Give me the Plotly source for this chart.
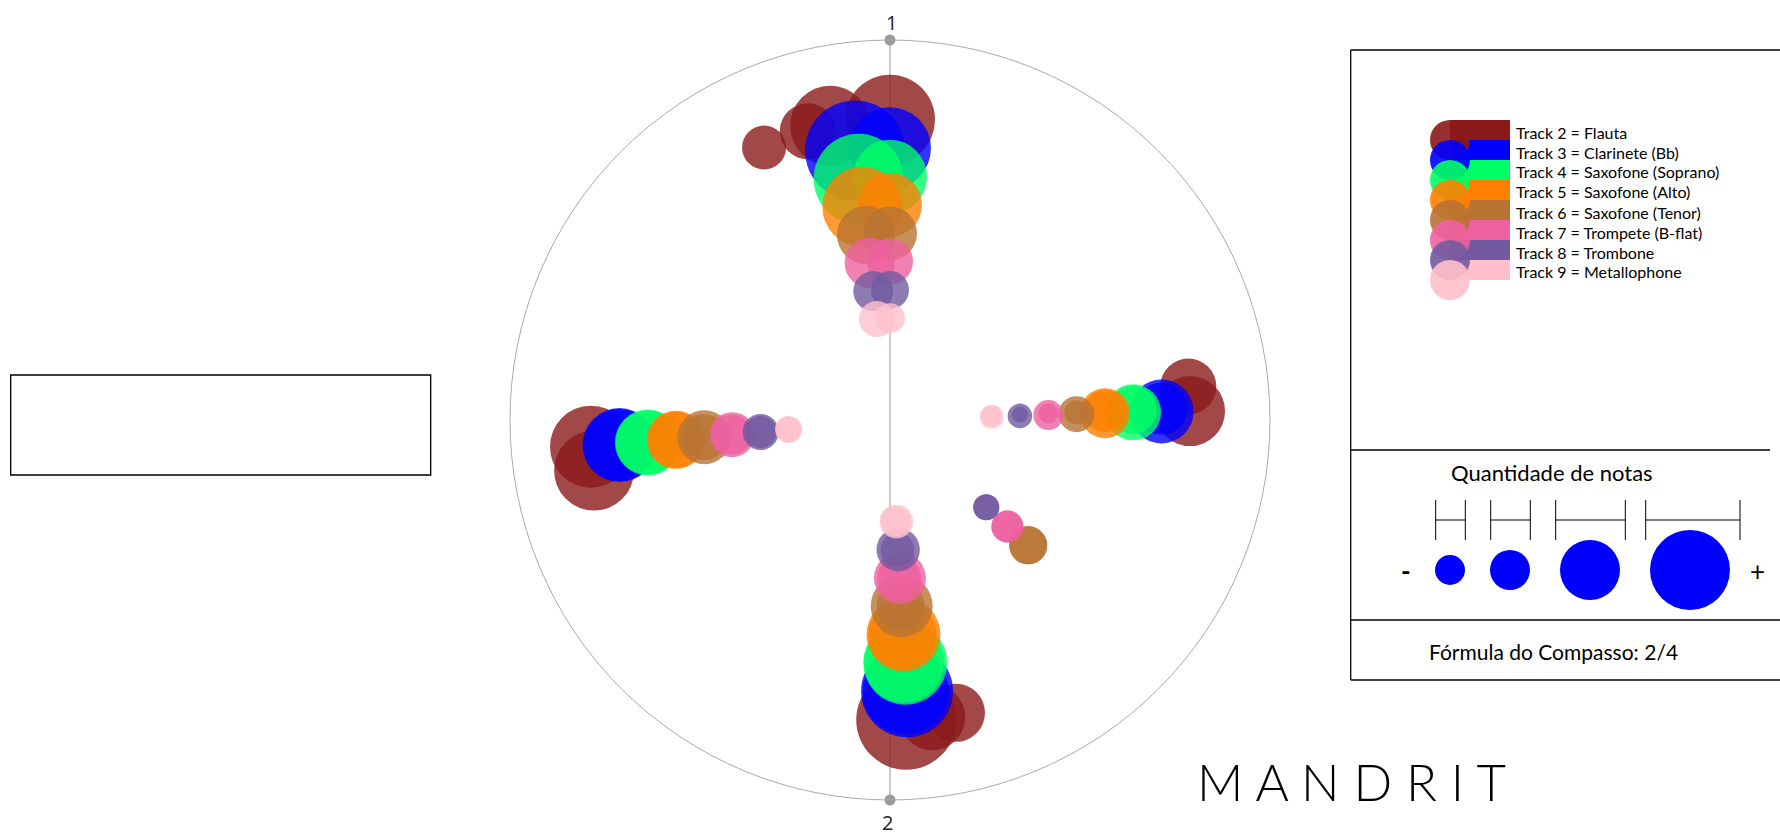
import plotly.graph_objects as go

W, H = 1780, 840


def px(x):
    return x / W


def py(y):
    return 1 - y / H


# ---------------- data ----------------
tracks = [
    "Track 2 = Flauta",
    "Track 3 = Clarinete (Bb)",
    "Track 4 = Saxofone (Soprano)",
    "Track 5 = Saxofone (Alto)",
    "Track 6 = Saxofone (Tenor)",
    "Track 7 = Trompete (B-flat)",
    "Track 8 = Trombone",
    "Track 9 = Metallophone",
]
colors = ["#8B1A1A", "#0000FF", "#00FF64", "#FF8000", "#B87333", "#EE60A0", "#735AA0", "#FFC0CB"]
ring = [0.790, 0.715, 0.640, 0.566, 0.491, 0.417, 0.342, 0.268]

beat_ticks = [0, 180]
beat_labels = ["1", "2"]

# angular position (degrees, clockwise from beat 1) and note quantity of each bubble
theta_flauta = [0, 348.5, 344.1, 335.2, 83.6, 88.3, 176.9, 171.9, 167.3, 264.9, 260.3]
notes_flauta = [45, 40, 28, 22, 28, 35, 50, 33, 29, 41, 40]

theta_clarinete = [352.6, 0, 88.2, 87.6, 176.4, 176.7, 264.7, 264.7]
notes_clarinete = [50, 41, 32, 26, 46, 43, 37, 36]

theta_soprano = [352.6, 0, 88.2, 87.6, 176.4, 176.7, 264.7, 264.7]
notes_soprano = [45, 37, 28, 24, 42, 40, 33, 32]

theta_alto = [352.6, 0, 88.2, 87.6, 176.4, 176.7, 264.7, 264.7]
notes_alto = [40, 32, 25, 21, 37, 34, 29, 28]

theta_tenor = [352.6, 0, 88.2, 87.6, 176.4, 176.7, 264.7, 264.7, 132.2, 132.2]
notes_tenor = [29, 27, 18, 12, 31, 24, 27, 23, 19, 19]

theta_trompete = [352.6, 0, 88.2, 87.6, 176.4, 176.7, 264.7, 264.7, 132.2, 132.2]
notes_trompete = [25, 23, 15, 10, 26, 22, 22.5, 20, 16, 16]

theta_trombone = [352.6, 0, 88.2, 87.6, 176.4, 176.7, 264.7, 264.7, 132.2, 132.2]
notes_trombone = [20, 19, 12.3, 8, 21.7, 17, 18, 16, 13, 13]

theta_metal = [352.6, 0, 88.2, 87.6, 176.4, 176.7, 264.7, 264.7]
notes_metal = [18, 15, 12, 10, 16.8, 15, 13.5, 13]

all_theta = [theta_flauta, theta_clarinete, theta_soprano, theta_alto,
             theta_tenor, theta_trompete, theta_trombone, theta_metal]
all_notes = [notes_flauta, notes_clarinete, notes_soprano, notes_alto,
             notes_tenor, notes_trompete, notes_trombone, notes_metal]

legend_notes = [15, 20, 30, 40]

FONT = "Lato"

fig = go.Figure()

for name, col, rr, th, nt in zip(tracks, colors, ring, all_theta, all_notes):
    fig.add_trace(go.Scatterpolar(
        r=[rr] * len(th), theta=th, mode="markers", name=name,
        marker=dict(size=nt, sizemode="diameter", sizeref=0.5, color=col,
                    opacity=0.8, line=dict(width=0)),
        showlegend=False, hoverinfo="text+name", text=[str(n) for n in nt],
    ))

# beat markers on the circle
fig.add_trace(go.Scatterpolar(
    r=[1, 1], theta=beat_ticks, mode="markers",
    marker=dict(size=11, color="#999999"), cliponaxis=False,
    showlegend=False, hoverinfo="skip",
))

fig.update_layout(
    width=W, height=H,
    margin=dict(l=0, r=0, t=0, b=0),
    paper_bgcolor="white",
    plot_bgcolor="white",
    polar=dict(
        domain=dict(x=[510 / W, 1270 / W], y=[40 / H, 800 / H]),
        bgcolor="white",
        radialaxis=dict(visible=False, range=[0, 1]),
        angularaxis=dict(
            rotation=90, direction="clockwise",
            tickvals=beat_ticks, ticktext=beat_labels, showticklabels=False,
            ticks="", showgrid=True, gridcolor="#999999", gridwidth=1,
            showline=True, linecolor="#AAAAAA", linewidth=1,
        ),
    ),
)

ann = []
# beat labels
ann.append(dict(x=px(891), y=py(22), text=beat_labels[0], showarrow=False,
                xanchor="center", yanchor="middle",
                font=dict(family="Open Sans", size=20, color="#222222")))
ann.append(dict(x=px(887), y=py(822), text=beat_labels[1], showarrow=False,
                xanchor="center", yanchor="middle",
                font=dict(family="Open Sans", size=20, color="#222222")))

shapes = []
BLK = dict(color="black", width=1.3)

# left empty box
shapes.append(dict(type="rect", xref="paper", yref="paper",
                   x0=px(10.7), x1=px(430.7), y0=py(475), y1=py(375), line=BLK))

# right panel lines
for (x0, y0, x1, y1) in [(1350.7, 50, 1782, 50), (1350.7, 50, 1350.7, 680),
                         (1350.7, 450, 1770, 450), (1350.7, 620, 1782, 620),
                         (1350.7, 680, 1782, 680)]:
    shapes.append(dict(type="line", xref="paper", yref="paper",
                       x0=px(x0), x1=px(x1), y0=py(y0), y1=py(y1), line=BLK))

# legend swatches
for i, col in enumerate(colors):
    shapes.append(dict(type="rect", xref="paper", yref="paper",
                       x0=px(1450), x1=px(1510), y0=py(140 + 20 * i), y1=py(120 + 20 * i),
                       fillcolor=col, line=dict(width=0)))
for i, col in enumerate(colors):
    cy = 140 + 20 * i
    shapes.append(dict(type="circle", xref="paper", yref="paper",
                       x0=px(1430), x1=px(1470), y0=py(cy + 20), y1=py(cy - 20),
                       fillcolor=col, opacity=0.9, line=dict(width=0)))
for i, name in enumerate(tracks):
    ann.append(dict(x=px(1514), y=py(132 + 20 * i), text=name, showarrow=False,
                    xanchor="left", yanchor="middle",
                    font=dict(family=FONT, size=16, color="black")))

# size legend
ann.append(dict(x=px(1552), y=py(472), text="Quantidade de notas", showarrow=False,
                xanchor="center", yanchor="middle",
                font=dict(family=FONT, size=22, color="black")))
centers = [1450, 1510, 1590, 1690]
brackets = [(1435.7, 1465.3), (1490.7, 1530.3), (1555.7, 1625.3), (1645.7, 1740)]
for (bx0, bx1) in brackets:
    for bx in (bx0, bx1):
        shapes.append(dict(type="line", xref="paper", yref="paper",
                           x0=px(bx), x1=px(bx), y0=py(500), y1=py(540),
                           line=dict(color="black", width=1)))
    shapes.append(dict(type="line", xref="paper", yref="paper",
                       x0=px(bx0), x1=px(bx1), y0=py(520), y1=py(520),
                       line=dict(color="black", width=1)))
for cx, n in zip(centers, legend_notes):
    shapes.append(dict(type="circle", xref="paper", yref="paper",
                       x0=px(cx - n), x1=px(cx + n), y0=py(570 + n), y1=py(570 - n),
                       fillcolor="#0000FF", line=dict(width=0)))
ann.append(dict(x=px(1406), y=py(571), text="<b>-</b>", showarrow=False,
                xanchor="center", yanchor="middle",
                font=dict(family=FONT, size=26, color="black")))
ann.append(dict(x=px(1757), y=py(571), text="+", showarrow=False,
                xanchor="center", yanchor="middle",
                font=dict(family=FONT, size=26, color="black")))

ann.append(dict(x=px(1553), y=py(651), text="Fórmula do Compasso: 2/4", showarrow=False,
                xanchor="center", yanchor="middle",
                font=dict(family=FONT, size=21, color="black")))

ann.append(dict(x=px(1351), y=py(781), text="M A N D R I T", showarrow=False,
                xanchor="center", yanchor="middle",
                font=dict(family=FONT, size=51, color="black", weight=300)))

fig.update_layout(shapes=shapes, annotations=ann)

fig.write_html(
    "out.html",
    config={"displayModeBar": False},
    post_script="document.body.style.margin='0';document.body.style.overflow='hidden';",
)
